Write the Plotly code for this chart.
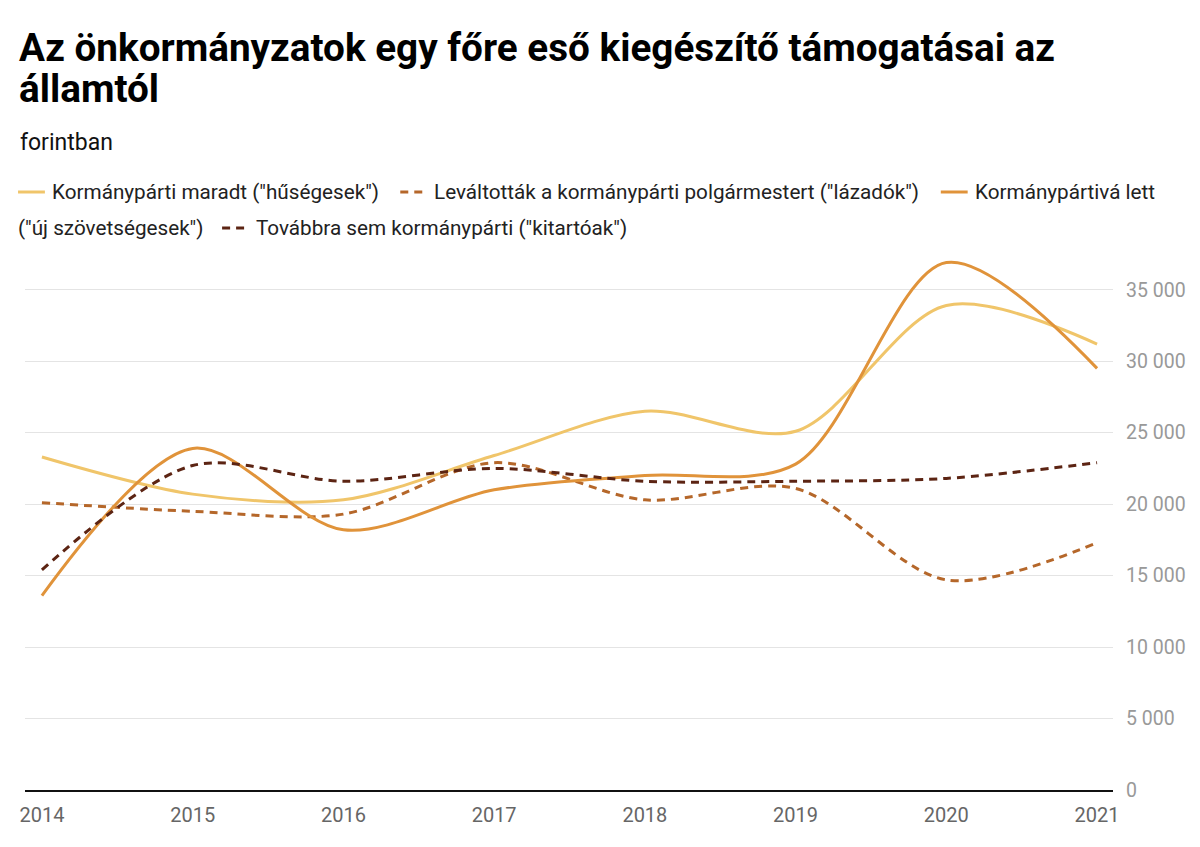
import plotly.graph_objects as go

# evek es ertekek (forint / fo), a kepről leolvasva
years = [2014, 2015, 2016, 2017, 2018, 2019, 2020, 2021]
huseges = [23300, 20700, 20300, 23400, 26500, 25100, 33900, 31200]
lazadok = [20100, 19500, 19300, 22900, 20300, 21100, 14700, 17300]
uj_szov = [13600, 23900, 18200, 21000, 22000, 22800, 36900, 29500]
kitartoak = [15400, 22700, 21600, 22500, 21600, 21600, 21800, 22900]

y_ticks = [0, 5000, 10000, 15000, 20000, 25000, 30000, 35000]
y_tick_labels = ["0", "5 000", "10 000", "15 000", "20 000", "25 000", "30 000", "35 000"]

names = [
    'Kormánypárti maradt ("hűségesek")',
    'Leváltották a kormánypárti polgármestert ("lázadók")',
    'Kormánypártivá lett ("új szövetségesek")',
    'Továbbra sem kormánypárti ("kitartóak")',
]
colors = ["#f0c56a", "#b5672a", "#e0933a", "#5c2413"]
dashes = ["solid", "8px,6px", "solid", "8px,6px"]
series = [huseges, lazadok, uj_szov, kitartoak]

W, H = 1200, 847
OFF = 8  # az oldal body margoja eltolja a rajzot
L, R, T, B = 20, 1113, 254, 790  # plot terulet a referencian (px)

def px(x):
    return (x - L) / (R - L)

def py(y):
    return (B - y) / (B - T)

fig = go.Figure()
for name, vals, col, dash in zip(names, series, colors, dashes):
    fig.add_trace(go.Scatter(x=years, y=vals, name=name, mode="lines",
                             line=dict(color=col, width=3, dash=dash, shape="spline", smoothing=0.9)))

font = "Roboto, Arial, sans-serif"
ann = []
ann.append(dict(text="<b>Az önkormányzatok egy főre eső kiegészítő támogatásai az</b>",
                x=px(12), y=py(47), xanchor="left", yanchor="middle",
                font=dict(size=38.7, color="#000", family=font)))
ann.append(dict(text="<b>államtól</b>",
                x=px(12), y=py(88), xanchor="left", yanchor="middle",
                font=dict(size=38.7, color="#000", family=font)))
ann.append(dict(text="forintban", x=px(13), y=py(142), xanchor="left", yanchor="middle",
                font=dict(size=23, color="#111", family=font)))

# kezi jelmagyarazat, hogy a sortores ugy essen mint az eredetin
leg = [
    (13, 192, 0, names[0]),
    (397, 192, 1, names[1]),
    (940, 192, 2, "Kormánypártivá lett"),
    (218, 228, 3, names[3]),
]
shapes = []
for x0, yy, i, txt in leg:
    shapes.append(dict(type="line", xref="paper", yref="paper", x0=px(x0), x1=px(x0 + 27),
                       y0=py(yy), y1=py(yy),
                       line=dict(color=colors[i], width=3, dash="solid" if dashes[i] == "solid" else "8px,6px")))
    ann.append(dict(text=txt, x=px(x0 + 32), y=py(yy), xanchor="left", yanchor="middle",
                    font=dict(size=20.7, color="#222", family=font)))
ann.append(dict(text='("új szövetségesek")', x=px(11), y=py(228), xanchor="left", yanchor="middle",
                font=dict(size=20.7, color="#222", family=font)))

for a in ann:
    a.update(xref="paper", yref="paper", showarrow=False)

x_lo = 2014 - 17 / 151.4
x_hi = 2021 + 16 / 151.4

fig.update_layout(
    width=W, height=H,
    margin=dict(l=L - OFF, r=W - R + OFF, t=T - OFF, b=H - B + OFF, pad=0),
    paper_bgcolor="white", plot_bgcolor="white",
    showlegend=False,
    annotations=ann, shapes=shapes,
    font=dict(family=font),
    xaxis=dict(range=[x_lo, x_hi], tickvals=years, ticktext=[str(y) for y in years],
               showgrid=False, zeroline=False, showline=True, linecolor="#111", linewidth=2,
               ticks="", tickfont=dict(size=20, color="#666"), ticklabelstandoff=6, fixedrange=True),
    yaxis=dict(range=[0, 37500], side="right", tickvals=y_ticks, ticktext=y_tick_labels,
               showgrid=True, gridcolor="#e4e4e4", gridwidth=1, zeroline=False,
               ticks="", tickfont=dict(size=19.5, color="#999"), ticklabelstandoff=12, fixedrange=True),
)

fig.write_html("out.html")
